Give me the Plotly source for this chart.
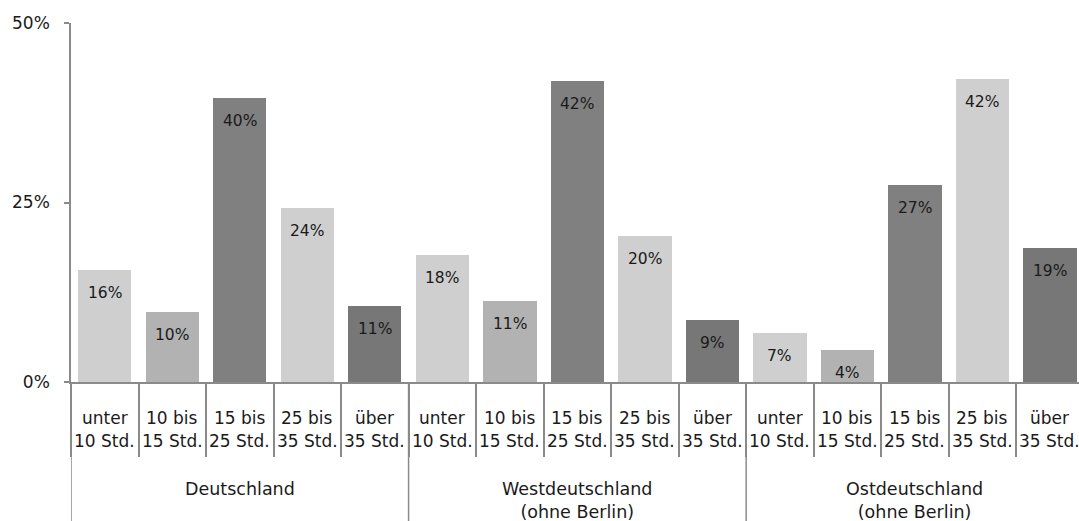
import plotly.graph_objects as go

groups = ["Deutschland", "Westdeutschland<br>(ohne Berlin)", "Ostdeutschland<br>(ohne Berlin)"]
categories = ["unter<br>10 Std.", "10 bis<br>15 Std.", "15 bis<br>25 Std.", "25 bis<br>35 Std.", "über<br>35 Std."]
values_de = [15.6, 9.8, 39.6, 24.3, 10.6]
values_west = [17.7, 11.3, 41.9, 20.3, 8.6]
values_east = [6.8, 4.4, 27.4, 42.2, 18.7]
cat_colors = ["#cfcfcf", "#b2b2b2", "#808080", "#cfcfcf", "#777777"]
y_ticks = [0, 25, 50]
y_ticktext = ["0%", "25%", "50%"]

all_values = values_de + values_west + values_east
all_labels = categories * len(groups)
n_cat = len(categories)
xs = list(range(len(all_values)))
colors = cat_colors * len(groups)

FONT = "DejaVu Sans, Verdana, sans-serif"
LINE = "#8a8a8a"
TXT = "#1a1a1a"

fig = go.Figure()
fig.add_trace(go.Bar(
    x=xs, y=all_values, marker=dict(color=colors, line=dict(width=0)),
    width=0.79, hoverinfo="skip", showlegend=False,
))

annotations = []
for x, v in zip(xs, all_values):
    annotations.append(dict(x=x, y=v, xref="x", yref="y", text=f"{v:.0f}%",
                            showarrow=False, yshift=-23,
                            font=dict(family=FONT, size=15.5, color=TXT)))
for x, lab in zip(xs, all_labels):
    for li, line in enumerate(lab.split("<br>")):
        annotations.append(dict(x=x, y=0, xref="x", yref="paper", text=line,
                                showarrow=False, yanchor="middle", yshift=-36 - 23 * li,
                                font=dict(family=FONT, size=17, color=TXT)))
for gi, g in enumerate(groups):
    center = gi * n_cat + (n_cat - 1) / 2
    annotations.append(dict(x=center, y=0, xref="x", yref="paper", text=g,
                            showarrow=False, yanchor="top", yshift=-95,
                            font=dict(family=FONT, size=17.5, color=TXT)))

shapes = []
for gi in range(len(groups)):
    xb = gi * n_cat - 0.5
    shapes.append(dict(type="line", xref="x", yref="paper", x0=xb, x1=xb,
                       y0=0, y1=-139 / 359, line=dict(color=LINE, width=1.5)))

fig.update_layout(
    width=1079, height=521,
    margin=dict(l=71, r=0, t=23, b=139),
    paper_bgcolor="white", plot_bgcolor="white",
    bargap=0,
    annotations=annotations, shapes=shapes,
    xaxis=dict(
        range=[-0.5, 14.43], tickmode="array", tickvals=xs,
        showticklabels=False, ticks="",
        showline=True, linecolor=LINE, linewidth=1.5,
        showgrid=False, zeroline=False,
        minor=dict(tickmode="array", tickvals=[i - 0.5 for i in range(len(all_values))],
                   ticks="outside", ticklen=73, tickcolor=LINE, tickwidth=1.5, showgrid=False),
    ),
    yaxis=dict(
        range=[0, 50], tickmode="array", tickvals=y_ticks, ticktext=y_ticktext,
        ticks="outside", ticklen=5, tickcolor=LINE, tickwidth=1.5,
        tickfont=dict(family=FONT, size=17, color=TXT),
        showline=True, linecolor=LINE, linewidth=1.5,
        showgrid=False, zeroline=False, ticklabelstandoff=11,
    ),
)

fig.write_html("out.html", config={"displayModeBar": False},
               post_script="document.body.style.margin='0px';")
